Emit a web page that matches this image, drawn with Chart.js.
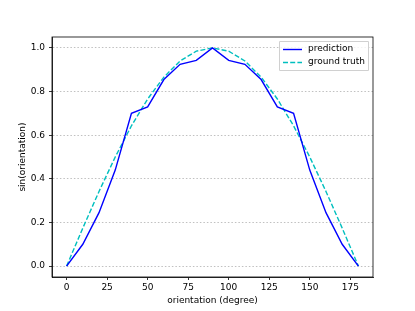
<!DOCTYPE html>
<html>
<head>
<meta charset="utf-8">
<script src="https://cdn.jsdelivr.net/npm/chart.js@4.4.0/dist/chart.umd.min.js"></script>
<style>
  html, body { margin: 0; padding: 0; background: #fff; }
  #wrap { width: 415px; height: 311px; }
</style>
</head>
<body>
<div id="wrap"><canvas id="myChart" width="415" height="311"></canvas></div>
<script>
// data
var orientation = [0, 10, 20, 30, 40, 50, 60, 70, 80, 90, 100, 110, 120, 130, 140, 150, 160, 170, 180];
var prediction = [0, 0.10, 0.245, 0.44, 0.70, 0.73, 0.855, 0.925, 0.943, 1.0, 0.943, 0.925, 0.855, 0.73, 0.70, 0.44, 0.245, 0.10, 0];
var groundTruth = [0, 0.174, 0.342, 0.5, 0.643, 0.766, 0.866, 0.940, 0.985, 1.0, 0.985, 0.940, 0.866, 0.766, 0.643, 0.5, 0.342, 0.174, 0];
var xTicks = [0, 25, 50, 75, 100, 125, 150, 175];
var yTicks = [0, 0.2, 0.4, 0.6, 0.8, 1.0];
var seriesLabels = ['prediction', 'ground truth'];

function toPoints(ys) {
  return orientation.map(function (x, i) { return { x: x, y: ys[i] }; });
}

var FONT = 'DejaVu Sans';

// frame round the plot area and a matplotlib-like legend box
var framePlugin = {
  id: 'frame',
  afterDraw: function (chart) {
    var ctx = chart.ctx, a = chart.chartArea;
    ctx.save();
    ctx.setLineDash([]);
    ctx.strokeStyle = '#000';
    ctx.lineWidth = 0.8;
    ctx.strokeRect(a.left, a.top, a.right - a.left, a.bottom - a.top);

    // legend
    var bx = 279.5, by = 41.5, bw = 89, bh = 29;
    ctx.fillStyle = 'rgba(255,255,255,0.8)';
    ctx.strokeStyle = '#d0d0d0';
    ctx.lineWidth = 1;
    ctx.beginPath();
    ctx.rect(bx, by, bw, bh);
    ctx.fill();
    ctx.stroke();

    ctx.lineWidth = 1.4;
    ctx.strokeStyle = '#0000ff';
    ctx.beginPath(); ctx.moveTo(283, 49.5); ctx.lineTo(302, 49.5); ctx.stroke();
    ctx.strokeStyle = '#00bfbf';
    ctx.setLineDash([5, 2.2]);
    ctx.beginPath(); ctx.moveTo(283, 62.5); ctx.lineTo(302, 62.5); ctx.stroke();
    ctx.setLineDash([]);

    ctx.fillStyle = '#000';
    ctx.font = '9px "' + FONT + '"';
    ctx.textBaseline = 'middle';
    ctx.textAlign = 'left';
    ctx.fillText(seriesLabels[0], 308, 49);
    ctx.fillText(seriesLabels[1], 308, 62);
    ctx.restore();
  }
};

var ctx = document.getElementById('myChart');
var myChart = new Chart(ctx, {
  type: 'line',
  data: {
    datasets: [
      {
        label: seriesLabels[0],
        data: toPoints(prediction),
        borderColor: '#0000ff',
        backgroundColor: '#0000ff',
        borderWidth: 1.4,
        pointRadius: 0,
        fill: false,
        tension: 0
      },
      {
        label: seriesLabels[1],
        data: toPoints(groundTruth),
        borderColor: '#00bfbf',
        backgroundColor: '#00bfbf',
        borderWidth: 1.4,
        borderDash: [5, 2.2],
        pointRadius: 0,
        fill: false,
        tension: 0
      }
    ]
  },
  options: {
    responsive: false,
    animation: false,
    layout: { padding: { left: 0, right: 42, top: 37, bottom: 0 } },
    plugins: {
      legend: { display: false },
      tooltip: { enabled: false }
    },
    scales: {
      x: {
        type: 'linear',
        min: -9,
        max: 189,
        afterBuildTicks: function (scale) {
          scale.ticks = xTicks.map(function (v) { return { value: v }; });
        },
        afterFit: function (scale) { scale.height = 34; },
        grid: {
          drawOnChartArea: false,
          tickLength: 3,
          tickColor: '#000',
          tickWidth: 0.8
        },
        border: { color: '#000', width: 0.8 },
        ticks: {
          color: '#000',
          font: { family: FONT, size: 9 },
          padding: 2,
          maxRotation: 0,
          autoSkip: false
        },
        title: {
          display: true,
          text: 'orientation (degree)',
          color: '#000',
          font: { family: FONT, size: 9 },
          padding: { top: 1, bottom: 5 }
        }
      },
      y: {
        type: 'linear',
        min: -0.05,
        max: 1.05,
        afterBuildTicks: function (scale) {
          scale.ticks = yTicks.map(function (v) { return { value: v }; });
        },
        afterFit: function (scale) { scale.width = 52; },
        grid: {
          color: '#b0b0b0',
          lineWidth: 0.8,
          tickLength: 3,
          tickColor: '#000',
          tickWidth: 0.8
        },
        border: { color: '#000', width: 0.8, dash: [1.5, 2] },
        ticks: {
          color: '#000',
          font: { family: FONT, size: 9 },
          padding: 4,
          autoSkip: false,
          callback: function (v) { return v.toFixed(1); }
        },
        title: {
          display: true,
          text: 'sin(orientation)',
          color: '#000',
          font: { family: FONT, size: 9 },
          padding: { top: 17, bottom: 0 }
        }
      }
    }
  },
  plugins: [framePlugin]
});
</script>
</body>
</html>
